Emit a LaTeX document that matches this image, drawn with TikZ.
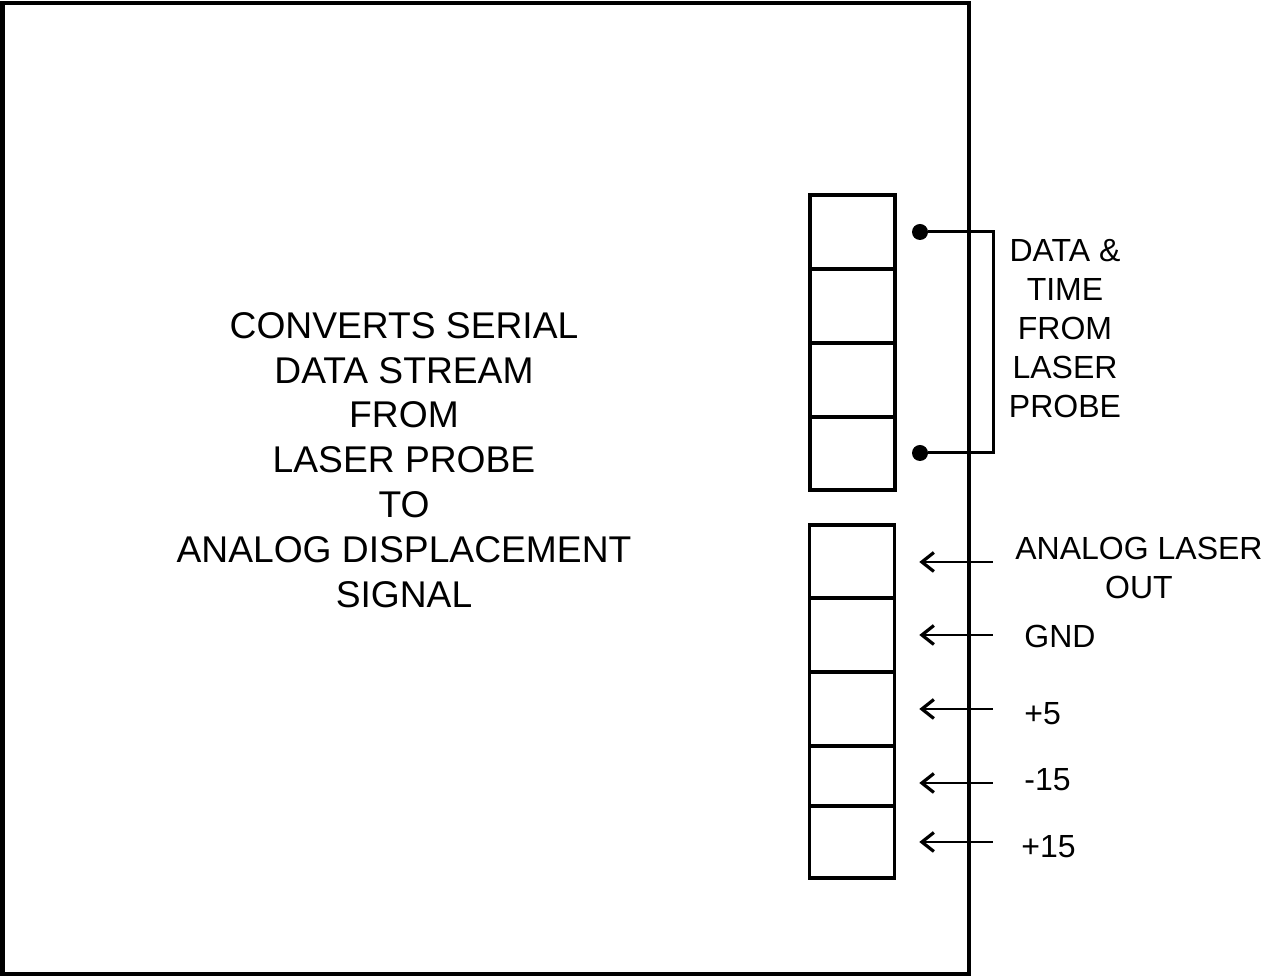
\documentclass[tikz,border=0pt]{standalone}
\usepackage{fontspec}
\setmainfont{Liberation Sans}
\usetikzlibrary{arrows.meta}

\begin{document}
\begin{tikzpicture}[x=0.5pt, y=-0.5pt,
  cell/.style={draw, line width=1.8pt, minimum width=42.5pt, inner sep=0pt},
  dot/.style={circle, fill, inner sep=0pt, minimum size=8pt},
  wire/.style={line width=1.5pt},
  feed/.style={{Straight Barb[length=6pt,width=9.5pt,line width=1.6pt]}-, line width=1.3pt, shorten <=11.5pt},
  lbl/.style={font=\fontsize{16}{19.5}\selectfont, align=center, inner sep=0pt},
  note/.style={font=\fontsize{18.6}{22.4}\selectfont, align=center, inner sep=0pt}]
  \useasboundingbox (0,0) rectangle (1266,977);
  % converter board
  \draw[line width=2.3pt] (2.5,3) rectangle (969,974);
  \node[note] (func) at (404,460) {CONVERTS SERIAL\\DATA STREAM\\FROM\\LASER PROBE\\TO\\ANALOG DISPLACEMENT\\SIGNAL};
  % data connector
  \node[cell, minimum height=37pt] (u1) at (852.5,232) {};
  \node[cell, minimum height=37pt] (u2) at (852.5,306) {};
  \node[cell, minimum height=37pt] (u3) at (852.5,380) {};
  \node[cell, minimum height=36.5pt] (u4) at (852.5,453.5) {};
  \node[dot] (pa) at (920,232) {};
  \node[dot] (pb) at (920,453) {};
  \coordinate (br) at (993,232);
  \draw[wire] (pa) -- (br) |- (pb);
  \node[lbl] (dt) at (1065,329) {DATA \&\\TIME\\FROM\\LASER\\PROBE};
  % power / analog connector
  \node[cell, minimum height=36.5pt] (l1) at (852,561.5) {};
  \node[cell, minimum height=37pt] (l2) at (852,635) {};
  \node[cell, minimum height=37pt] (l3) at (852,709) {};
  \node[cell, minimum height=30pt] (l4) at (852,776) {};
  \node[cell, minimum height=36pt] (l5) at (852,842) {};
  \coordinate (s1) at (993,562);
  \coordinate (s2) at (993,635);
  \coordinate (s3) at (993,709);
  \coordinate (s4) at (993,783);
  \coordinate (s5) at (993,842);
  \draw[feed] (s1 -| l1.east) -- (s1);
  \draw[feed] (s2 -| l2.east) -- (s2);
  \draw[feed] (s3 -| l3.east) -- (s3);
  \draw[feed] (s4 -| l4.east) -- (s4);
  \draw[feed] (s5 -| l5.east) -- (s5);
  \node[lbl] (ao) at (1139,568) {ANALOG LASER\\OUT};
  \node[lbl, anchor=base west] (gnd) at (1024,648) {GND};
  \node[lbl, anchor=base west] (p5) at (1024,725) {+5};
  \node[lbl, anchor=base west] (m15) at (1024,791) {-15};
  \node[lbl, anchor=base west] (p15) at (1021,858) {+15};
\end{tikzpicture}
\end{document}
